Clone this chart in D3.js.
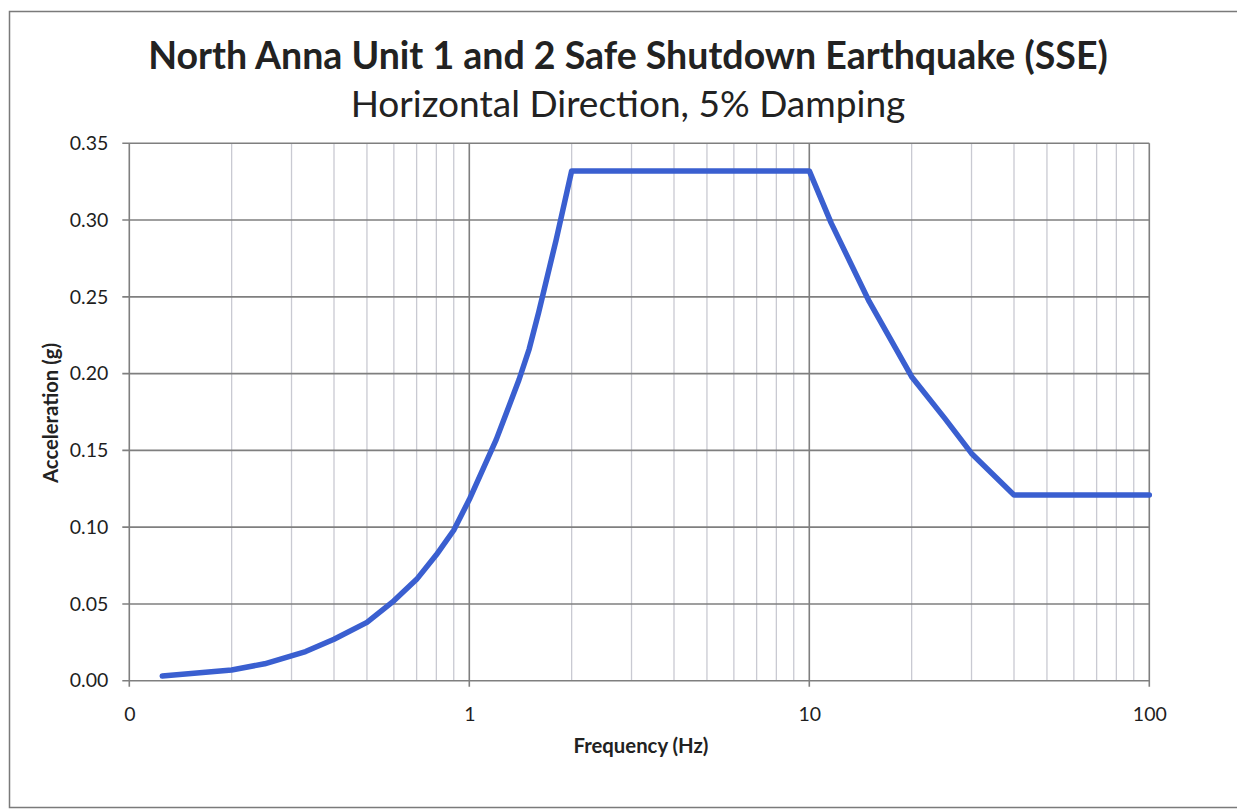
<!DOCTYPE html>
<html>
<head>
<meta charset="utf-8">
<script src="https://cdn.jsdelivr.net/npm/d3@7"></script>
<style>
  body { margin: 0; background: #fff; }
  svg { font-family: Lato, "Open Sans", sans-serif; }
</style>
</head>
<body>
<svg id="svg" width="1237" height="811"></svg>
<script>
// spectrum points
var freq  = [0.125, 0.2, 0.25, 0.33, 0.4, 0.5, 0.6, 0.7, 0.8, 0.9, 1.0, 1.2, 1.4, 1.5, 1.6, 1.8, 2.0, 10, 11.6, 15, 20, 25, 30, 40, 100];
var accel = [0.003, 0.007, 0.011, 0.019, 0.027, 0.038, 0.052, 0.066, 0.082, 0.098, 0.118, 0.157, 0.196, 0.216, 0.240, 0.287, 0.332, 0.332, 0.298, 0.247, 0.198, 0.171, 0.148, 0.121, 0.121];

var xTicks = [0.1, 1, 10, 100];
var xTickLabels = ["0", "1", "10", "100"];
var yTicks = [0, 0.05, 0.10, 0.15, 0.20, 0.25, 0.30, 0.35];

var svg = d3.select("#svg");
var plotLeft = 129.3, plotRight = 1149.3, plotTop = 143.3, plotBottom = 680.7;

var xScale = d3.scaleLog().domain([0.1, 100]).range([plotLeft, plotRight]);
var yScale = d3.scaleLinear().domain([0, 0.35]).range([plotBottom, plotTop]);

// outer frame
svg.append("rect")
    .attr("x", 9.5).attr("y", 11.5)
    .attr("width", 1240).attr("height", 796)
    .attr("fill", "none").attr("stroke", "#7a7a7a").attr("stroke-width", 1.5);

// minor vertical grid
var minor = [];
[0.1, 1, 10].forEach(function(d) {
    for (var k = 2; k <= 9; k++) minor.push(d * k);
});
svg.append("g").selectAll("line")
    .data(minor).enter().append("line")
    .attr("x1", function(d) { return xScale(d); })
    .attr("x2", function(d) { return xScale(d); })
    .attr("y1", plotTop).attr("y2", plotBottom)
    .attr("stroke", "#c9cad2").attr("stroke-width", 1.3);

// major vertical grid
svg.append("g").selectAll("line")
    .data(xTicks).enter().append("line")
    .attr("x1", function(d) { return xScale(d); })
    .attr("x2", function(d) { return xScale(d); })
    .attr("y1", plotTop).attr("y2", plotBottom + 6)
    .attr("stroke", "#7f7f7f").attr("stroke-width", 1.6);

// horizontal grid
svg.append("g").selectAll("line")
    .data(yTicks).enter().append("line")
    .attr("x1", plotLeft - 7).attr("x2", plotRight)
    .attr("y1", function(d) { return yScale(d); })
    .attr("y2", function(d) { return yScale(d); })
    .attr("stroke", "#7f7f7f").attr("stroke-width", 1.6);

// y tick labels
var yAxis = d3.axisLeft(yScale).tickValues(yTicks).tickFormat(d3.format(".2f")).tickSize(0).tickPadding(21);
var gy = svg.append("g").attr("transform", "translate(" + plotLeft + ",0)").call(yAxis);
gy.select(".domain").remove();
gy.selectAll("text").attr("font-size", 19.5).attr("fill", "#1e1e1e").attr("font-family", "Lato, sans-serif");

// x tick labels
var xAxis = d3.axisBottom(xScale).tickValues(xTicks)
    .tickFormat(function(d, i) { return xTickLabels[i]; })
    .tickSize(0).tickPadding(26);
var gx = svg.append("g").attr("transform", "translate(0," + plotBottom + ")").call(xAxis);
gx.select(".domain").remove();
gx.selectAll("text").attr("font-size", 19.5).attr("fill", "#1e1e1e").attr("font-family", "Lato, sans-serif");

// spectrum line
var line = d3.line()
    .x(function(d, i) { return xScale(freq[i]); })
    .y(function(d) { return yScale(d); });
svg.append("path")
    .datum(accel)
    .attr("d", line)
    .attr("fill", "none")
    .attr("stroke", "#3a5fd0")
    .attr("stroke-width", 5.5)
    .attr("stroke-linejoin", "round")
    .attr("stroke-linecap", "round");

// fit a text to a width by changing its size
var fitText = function(t, width) {
    var w = t.node().getComputedTextLength();
    var s = parseFloat(t.attr("font-size"));
    t.attr("font-size", s * width / w);
};

var title = svg.append("text")
    .text("North Anna Unit 1 and 2 Safe Shutdown Earthquake (SSE)")
    .attr("x", 628).attr("y", 69)
    .attr("text-anchor", "middle")
    .attr("font-weight", "bold").attr("font-size", 32).attr("fill", "#222");
fitText(title, 960);

var sub = svg.append("text")
    .text("Horizontal Direction, 5% Damping")
    .attr("x", 628).attr("y", 117)
    .attr("text-anchor", "middle")
    .attr("font-size", 32).attr("fill", "#222");
fitText(sub, 555);

var xt = svg.append("text")
    .text("Frequency (Hz)")
    .attr("x", 641).attr("y", 753)
    .attr("text-anchor", "middle")
    .attr("font-weight", "bold").attr("font-size", 16).attr("fill", "#222");
fitText(xt, 135);

var yt = svg.append("text")
    .text("Acceleration (g)")
    .attr("transform", "translate(58,413) rotate(-90)")
    .attr("text-anchor", "middle")
    .attr("font-weight", "bold").attr("font-size", 16).attr("fill", "#222");
fitText(yt, 140);
</script>
</body>
</html>
